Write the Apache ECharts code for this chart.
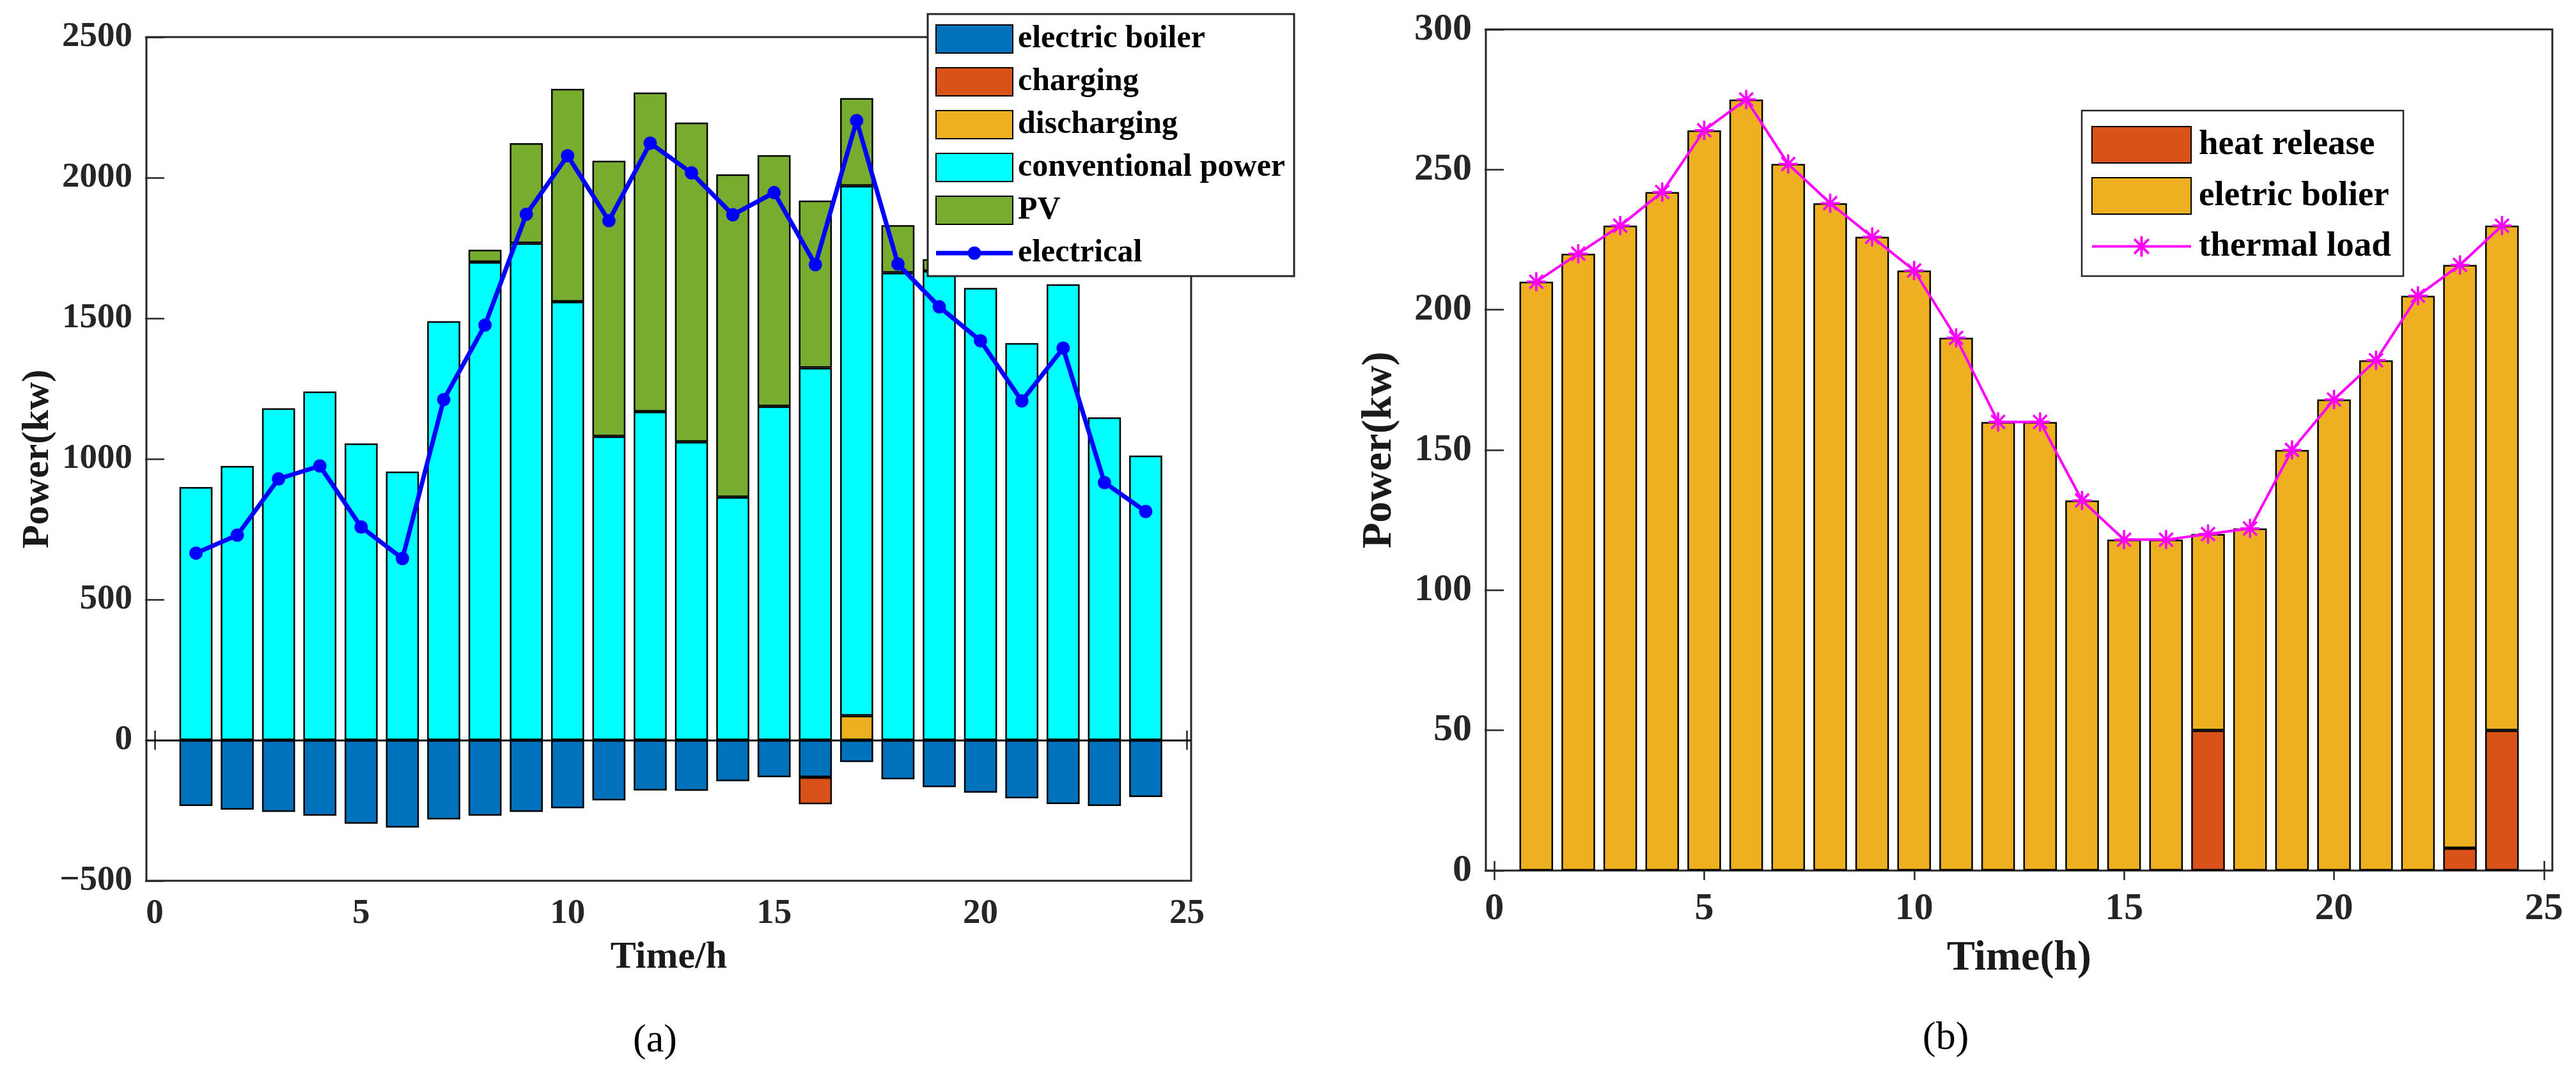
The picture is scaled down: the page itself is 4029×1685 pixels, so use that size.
<!DOCTYPE html>
<html>
<head>
<meta charset="utf-8">
<script src="https://cdn.jsdelivr.net/npm/echarts@6/dist/echarts.min.js"></script>
<style>
  html, body { margin: 0; padding: 0; background: #fff; }
  #main { width: 4029px; height: 1685px; }
</style>
</head>
<body>
<div id="main"></div>
<script>
var chart = echarts.init(document.getElementById('main'));

// ---- data ----
var hours = [1, 2, 3, 4, 5, 6, 7, 8, 9, 10, 11, 12, 13, 14, 15, 16, 17, 18, 19, 20, 21, 22, 23, 24];
var xTicks = [0, 5, 10, 15, 20, 25];

// (a) electric balance
var elecBoiler = [-234, -247, -255, -269, -297, -311, -282, -269, -255, -242, -214, -179, -180, -146, -132, -132, -78, -139, -167, -187, -207, -227, -234, -202];
var charging = [null, null, null, null, null, null, null, null, null, null, null, null, null, null, null, -96, null, null, null, null, null, null, null, null];
var discharging = [null, null, null, null, null, null, null, null, null, null, null, null, null, null, null, null, 87, null, null, null, null, null, null, null];
var convPower = [900, 975, 1180, 1240, 1055, 955, 1490, 1700, 1767, 1559, 1080, 1168, 1061, 864, 1187, 1324, 1884, 1662, 1668, 1608, 1412, 1621, 1148, 1012];
var pvPower = [null, null, null, null, null, null, null, 44, 356, 757, 980, 1135, 1135, 1148, 893, 595, 312, 169, 42, null, null, null, null, null];
var elecLoad = [665, 729, 929, 975, 758, 646, 1211, 1476, 1870, 2078, 1847, 2123, 2017, 1868, 1947, 1691, 2203, 1693, 1541, 1420, 1206, 1394, 916, 813];

// (b) heat balance
var heatRelease = [null, null, null, null, null, null, null, null, null, null, null, null, null, null, null, null, 50, null, null, null, null, null, 8, 50];
var boilerHeat = [210, 220, 230, 242, 264, 275, 252, 238, 226, 214, 190, 160, 160, 132, 118, 118, 70, 122, 150, 168, 182, 205, 208, 180];
var thermalLoad = [210, 220, 230, 242, 264, 275, 252, 238, 226, 214, 190, 160, 160, 132, 118, 118, 120, 122, 150, 168, 182, 205, 216, 230];

// ---- layout ----
var FONT = "'Liberation Serif', 'Times New Roman', serif";
var AXC = '#262626';
var frameA = {left: 229, top: 58, width: 1634, height: 1320};
var frameB = {left: 2324, top: 46, width: 1668, height: 1316};
var xRangeA = [-0.2, 25.1];
var xRangeB = [-0.2, 25.2];

// grid holding the bars: category bands 0.5..24.5 inside the frame
function barGrid(f, r) {
    var span = r[1] - r[0];
    return {
        left: f.left + (0.5 - r[0]) / span * f.width,
        top: f.top,
        width: 24 / span * f.width,
        height: f.height,
        show: false,
        outerBoundsMode: 'none'
    };
}

// asterisk marker as a filled path (four bars through the centre)
function star(cx, cy, r, w) {
    var s = '';
    [0, 45, 90, 135].forEach(function (deg) {
        var t = deg * Math.PI / 180;
        var dx = Math.cos(t) * r, dy = Math.sin(t) * r;
        var px = -Math.sin(t) * w / 2, py = Math.cos(t) * w / 2;
        var pts = [[cx - dx - px, cy - dy - py], [cx + dx - px, cy + dy - py],
                   [cx + dx + px, cy + dy + py], [cx - dx + px, cy - dy + py]];
        s += 'M' + pts.map(function (p) { return p[0].toFixed(2) + ' ' + p[1].toFixed(2); }).join(' L') + ' Z ';
    });
    return s;
}
var starSymbol = 'path://' + star(50, 50, 50, 12);
var starLegend = 'path://M0 26.5 L155 26.5 L155 30.5 L0 30.5 Z ' + star(77.5, 28.5, 16, 4);
var dotLegend = 'path://M0 18.5 L120 18.5 L120 25.5 L0 25.5 Z M49.5 22 A10.5 10.5 0 1 1 70.5 22 A10.5 10.5 0 1 1 49.5 22 Z';

// plain numbers, typographic minus
function plainNum(v) {
    return v < 0 ? '\u2212' + Math.abs(v) : String(v);
}

function tickStyle() {
    return {inside: true, length: 15, lineStyle: {color: AXC, width: 2.5}};
}

function frameX(grid, r, pos, fs, margin, name, nameGap, nameFs) {
    var tick = tickStyle();
    tick.customValues = xTicks;
    return {
        type: 'value', gridIndex: grid, position: pos, min: r[0], max: r[1],
        axisLine: {show: false}, splitLine: {show: false},
        axisTick: tick,
        axisLabel: pos === 'bottom' ? {
            customValues: xTicks, margin: margin, color: AXC, formatter: plainNum,
            fontFamily: FONT, fontWeight: 'bold', fontSize: fs
        } : {show: false},
        name: name || '', nameLocation: 'middle', nameGap: nameGap || 0,
        nameTextStyle: {fontFamily: FONT, fontWeight: 'bold', fontSize: nameFs || 10, color: '#1a1a1a'}
    };
}

function frameY(grid, min, max, step, pos, fs, margin, name, nameGap, nameFs) {
    return {
        type: 'value', gridIndex: grid, position: pos, min: min, max: max, interval: step,
        axisLine: {show: false}, splitLine: {show: false},
        axisTick: tickStyle(),
        axisLabel: pos === 'left' ? {
            margin: margin, color: AXC, formatter: plainNum,
            fontFamily: FONT, fontWeight: 'bold', fontSize: fs
        } : {show: false},
        name: name || '', nameLocation: 'middle', nameGap: nameGap || 0,
        nameTextStyle: {fontFamily: FONT, fontWeight: 'bold', fontSize: nameFs || 10, color: '#1a1a1a'}
    };
}

function catX(grid) {
    return {type: 'category', gridIndex: grid, data: hours, boundaryGap: true, show: false};
}
function hiddenY(grid, min, max) {
    return {type: 'value', gridIndex: grid, min: min, max: max, show: false};
}

function barSeries(name, data, color, xi, yi, stack) {
    return {
        name: name, type: 'bar', data: data, stack: stack,
        xAxisIndex: xi, yAxisIndex: yi, barCategoryGap: '20%',
        itemStyle: {color: color, borderColor: '#000', borderWidth: 2.5},
        emphasis: {disabled: true}, z: 2
    };
}

function pairs(vals) {
    return hours.map(function (h, i) { return [h, vals[i]]; });
}

var option = {
    animation: false,
    backgroundColor: '#fff',
    grid: [
        {left: frameA.left, top: frameA.top, width: frameA.width, height: frameA.height,
         show: true, borderColor: AXC, borderWidth: 3, backgroundColor: 'transparent', outerBoundsMode: 'none'},
        barGrid(frameA, xRangeA),
        {left: frameB.left, top: frameB.top, width: frameB.width, height: frameB.height,
         show: true, borderColor: AXC, borderWidth: 3, backgroundColor: 'transparent', outerBoundsMode: 'none'},
        barGrid(frameB, xRangeB)
    ],
    xAxis: [
        frameX(0, xRangeA, 'bottom', 55, 24, 'Time/h', 90, 60),
        frameX(0, xRangeA, 'top'),
        catX(1),
        frameX(2, xRangeB, 'bottom', 60, 30, 'Time(h)', 105, 66),
        frameX(2, xRangeB, 'top'),
        catX(3)
    ],
    yAxis: [
        frameY(0, -500, 2500, 500, 'left', 55, 22, 'Power(kw)', 140, 60),
        frameY(0, -500, 2500, 500, 'right'),
        hiddenY(1, -500, 2500),
        frameY(2, 0, 300, 50, 'left', 60, 22, 'Power(kw)', 133, 66),
        frameY(2, 0, 300, 50, 'right'),
        hiddenY(3, 0, 300)
    ],
    legend: [
        {
            orient: 'vertical', left: 1451, top: 22,
            data: [
                {name: 'electric boiler', icon: 'rect'},
                {name: 'charging', icon: 'rect'},
                {name: 'discharging', icon: 'rect'},
                {name: 'conventional power', icon: 'rect'},
                {name: 'PV', icon: 'rect'},
                {name: 'electrical', icon: dotLegend}
            ],
            itemWidth: 120, itemHeight: 44, itemGap: 17,
            padding: [14, 14, 11, 12],
            backgroundColor: '#fff', borderColor: AXC, borderWidth: 3,
            selectedMode: false,
            textStyle: {fontFamily: FONT, fontWeight: 'bold', fontSize: 50, color: '#000',
                        lineHeight: 44, padding: [0, 0, 0, 3]}
        },
        {
            orient: 'vertical', left: 3256, top: 173,
            data: [
                {name: 'heat release', icon: 'rect'},
                {name: 'eletric bolier', icon: 'rect'},
                {name: 'thermal load', icon: starLegend}
            ],
            itemWidth: 155, itemHeight: 57, itemGap: 21,
            padding: [24, 19, 18, 15],
            backgroundColor: '#fff', borderColor: AXC, borderWidth: 2.5,
            selectedMode: false,
            textStyle: {fontFamily: FONT, fontWeight: 'bold', fontSize: 55, color: '#000',
                        lineHeight: 57, padding: [0, 0, 0, 7]}
        }
    ],
    series: [
        barSeries('electric boiler', elecBoiler, '#0072BD', 2, 2, 'ea'),
        barSeries('charging', charging, '#D95319', 2, 2, 'ea'),
        barSeries('discharging', discharging, '#EDB120', 2, 2, 'ea'),
        barSeries('conventional power', convPower, '#00FFFF', 2, 2, 'ea'),
        barSeries('PV', pvPower, '#77AC30', 2, 2, 'ea'),
        {
            name: 'electrical', type: 'line', data: pairs(elecLoad),
            xAxisIndex: 0, yAxisIndex: 0, z: 3,
            symbol: 'circle', symbolSize: 21,
            lineStyle: {color: '#0000FF', width: 7},
            itemStyle: {color: '#0000FF', borderWidth: 0},
            emphasis: {disabled: true},
            markLine: {
                silent: true, symbol: ['none', 'none'], label: {show: false},
                lineStyle: {color: '#000', width: 3, type: 'solid'},
                emphasis: {disabled: true},
                data: [{yAxis: 0}]
            }
        },
        barSeries('heat release', heatRelease, '#D95319', 5, 5, 'hb'),
        barSeries('eletric bolier', boilerHeat, '#EDB120', 5, 5, 'hb'),
        {
            name: 'thermal load', type: 'line', data: pairs(thermalLoad),
            xAxisIndex: 3, yAxisIndex: 3, z: 3,
            symbol: starSymbol, symbolSize: 30,
            lineStyle: {color: '#FF00FF', width: 4},
            itemStyle: {color: '#FF00FF', borderWidth: 0},
            emphasis: {disabled: true}
        }
    ],
    graphic: [
        {type: 'text', left: 1030 - 40, top: 1598, style: {text: '(a)', font: "62px 'Liberation Serif', serif", fill: '#000'}},
        {type: 'text', left: 3047 - 40, top: 1594, style: {text: '(b)', font: "62px 'Liberation Serif', serif", fill: '#000'}}
    ]
};
chart.setOption(option);
</script>
</body>
</html>
